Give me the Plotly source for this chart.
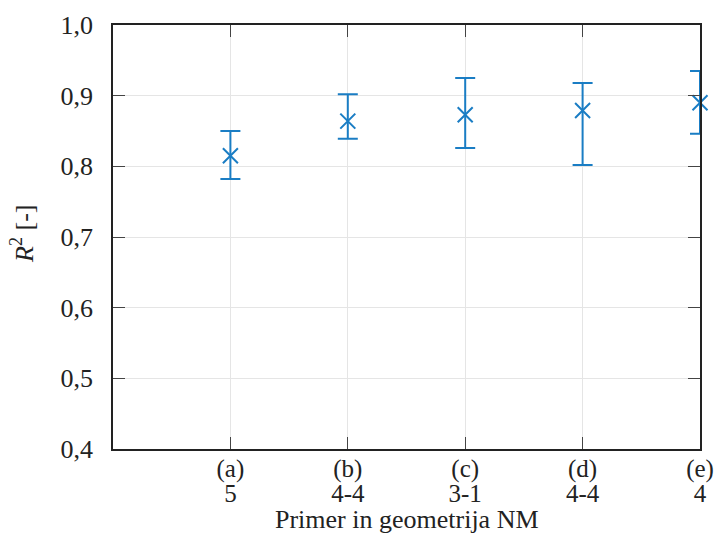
import plotly.graph_objects as go

letters = ["(a)", "(b)", "(c)", "(d)", "(e)"]
geometries = ["5", "4-4", "3-1", "4-4", "4"]
positions = [1, 2, 3, 4, 5]
r2_mean = [0.815, 0.864, 0.873, 0.879, 0.890]
r2_low = [0.782, 0.839, 0.826, 0.802, 0.846]
r2_high = [0.850, 0.902, 0.925, 0.918, 0.935]
y_ticks = [0.4, 0.5, 0.6, 0.7, 0.8, 0.9, 1.0]
y_ticklabels = ["0,4", "0,5", "0,6", "0,7", "0,8", "0,9", "1,0"]
x_title = "Primer in geometrija NM"
y_title = "<i>R</i><sup>2</sup> [-]"

blue = "#1a7dc4"
err_plus = [h - m for h, m in zip(r2_high, r2_mean)]
err_minus = [m - l for m, l in zip(r2_mean, r2_low)]

fig = go.Figure()
fig.add_trace(go.Scatter(
    x=positions, y=r2_mean, mode="markers",
    marker=dict(symbol="x-thin", size=15, line=dict(width=2, color=blue), color=blue),
    error_y=dict(type="data", symmetric=False, array=err_plus, arrayminus=err_minus,
                 color=blue, thickness=2, width=10),
    cliponaxis=False, showlegend=False,
))
# invisible companion trace carrying the second row of category labels
fig.add_trace(go.Scatter(
    x=positions, y=r2_mean, mode="markers", xaxis="x2",
    marker=dict(opacity=0), hoverinfo="skip", showlegend=False,
))

font = "Liberation Serif"
fig.update_layout(
    width=715, height=535,
    margin=dict(l=113, r=15, t=25, b=86, autoexpand=False),
    paper_bgcolor="white", plot_bgcolor="white",
    font=dict(family=font, size=22, color="#222"),
    xaxis=dict(
        range=[0, 5], tickmode="array", tickvals=positions, ticktext=letters,
        showgrid=True, gridcolor="#e5e5e5", gridwidth=1,
        showline=True, linecolor="#222", linewidth=1.5, mirror="ticks",
        ticks="inside", ticklen=12, tickcolor="#444", tickwidth=1,
        tickfont=dict(family=font, size=25), zeroline=False, automargin=False,
        ticklabelstandoff=-4,
    ),
    xaxis2=dict(
        range=[0, 5], tickmode="array", tickvals=positions, ticktext=geometries,
        overlaying="x", side="bottom", anchor="y",
        showgrid=False, showline=False, ticks="", zeroline=False,
        tickfont=dict(family=font, size=25), automargin=False,
        ticklabelstandoff=27,
    ),
    yaxis=dict(
        range=[0.4, 1.0], tickmode="array", tickvals=y_ticks, ticktext=y_ticklabels,
        showgrid=True, gridcolor="#e5e5e5", gridwidth=1,
        showline=True, linecolor="#222", linewidth=1.5, mirror="ticks",
        ticks="inside", ticklen=12, tickcolor="#444", tickwidth=1,
        tickfont=dict(family=font, size=26), zeroline=False, automargin=False,
        ticklabelstandoff=13,
    ),
    annotations=[
        dict(text=x_title, xref="paper", yref="paper", x=0.5, y=0, yshift=-70,
             xanchor="center", yanchor="middle", showarrow=False,
             font=dict(family=font, size=26)),
        dict(text=y_title, xref="paper", yref="paper", x=0, y=0.5, xshift=-91,
             yshift=3, xanchor="center", yanchor="middle", showarrow=False,
             textangle=-90, font=dict(family=font, size=26)),
    ],
)

fig.write_html("out.html", config={"displayModeBar": False},
               post_script="document.body.style.margin='0';")
